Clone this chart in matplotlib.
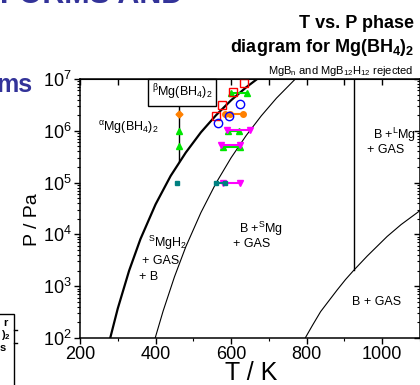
import matplotlib
matplotlib.use('Agg')
import matplotlib.pyplot as plt
import numpy as np
from matplotlib.ticker import MultipleLocator, LogLocator, NullFormatter
from matplotlib.patches import Rectangle
from matplotlib.lines import Line2D

plt.rcParams['font.family'] = 'Liberation Sans'
plt.rcParams['mathtext.fontset'] = 'custom'
plt.rcParams['mathtext.rm'] = 'Liberation Sans'
plt.rcParams['mathtext.it'] = 'Liberation Sans:italic'
plt.rcParams['mathtext.bf'] = 'Liberation Sans:bold'
plt.rcParams['mathtext.default'] = 'regular'

# phase boundaries (T / K, log10 P / Pa)
bh4_T = [280, 300, 330, 360, 400, 440, 480, 520, 560, 600, 640, 669]
bh4_logP = [2.0, 2.57, 3.30, 3.91, 4.58, 5.13, 5.58, 5.97, 6.30, 6.59, 6.84, 7.0]
mgh2_T = [399, 420, 450, 480, 520, 560, 600, 640, 680, 720, 770]
mgh2_logP = [2.0, 2.52, 3.18, 3.76, 4.42, 4.99, 5.48, 5.91, 6.29, 6.63, 7.0]
mg_T = [797, 815, 837, 860, 881, 903, 925, 960, 1013, 1050, 1102]
mg_logP = [2.01, 2.24, 2.51, 2.73, 2.93, 3.13, 3.31, 3.58, 3.96, 4.19, 4.47]
melt_T = [925, 925]
melt_logP = [3.31, 7.0]
beta_T = [462, 462]
beta_logP = [5.42, 6.54]

# experimental points (T / K, P / Pa)
red_T = [560, 576, 605, 633]
red_P = [1.9e6, 3.1e6, 5.6e6, 8.5e6]
blue_T = [565, 595, 624]
blue_P = [1.4e6, 1.9e6, 3.3e6]
orange_T = [585, 596, 632]
orange_P = [2.1e6, 2.1e6, 2.1e6]
orange_alpha_T = [462]
orange_alpha_P = [2.1e6]
green_alpha_T = [462, 462]
green_alpha_P = [1.0e6, 5.0e5]
green_groups = [([600, 642], [5.3e6, 5.3e6]),
                ([591, 620], [9.9e5, 9.9e5]),
                ([578, 624], [4.8e5, 4.8e5])]
magenta_groups = [([589, 649], [1.05e6, 1.05e6]),
                  ([573, 624], [5.4e5, 5.4e5]),
                  ([578, 623], [1.0e5, 1.0e5])]
teal_alpha_T = [457]
teal_alpha_P = [1.0e5]
teal_T = [560, 585]
teal_P = [1.0e5, 1.0e5]

fig = plt.figure(figsize=(4.2, 3.85), dpi=100)
ax = fig.add_axes([80/420, 47/385, 340/420, 259/385])

lp = lambda v: [10**x for x in v]
ax.plot(bh4_T, lp(bh4_logP), color='black', lw=1.6)
ax.plot(mgh2_T, lp(mgh2_logP), color='black', lw=0.8)
ax.plot(mg_T, lp(mg_logP), color='black', lw=0.8)
ax.plot(melt_T, lp(melt_logP), color='black', lw=1.0)
ax.plot(beta_T, lp(beta_logP), color='black', lw=1.0)

for T, P in green_groups:
    ax.plot(T, P, color='#00e600', lw=1.5, marker='^', ms=4, mec='#00e600')
for T, P in magenta_groups:
    ax.plot(T, P, color='#ff00ff', lw=1.5, marker='v', ms=4, mec='#ff00ff')
ax.plot(green_alpha_T, green_alpha_P, ls='none', color='#00e600', marker='^', ms=4)
ax.plot(orange_T, orange_P, color='#ff8000', lw=1.5, marker='o', ms=4)
ax.plot(orange_alpha_T, orange_alpha_P, ls='none', color='#ff8000', marker='D', ms=3.5)
ax.plot(teal_T, teal_P, color='#008080', lw=1.5, marker='s', ms=3.5)
ax.plot(teal_alpha_T, teal_alpha_P, ls='none', color='#008080', marker='s', ms=3.5)
ax.plot(red_T, red_P, ls='none', marker='s', ms=5.5, mfc='none', mec='#ff0000', mew=1)
ax.plot(blue_T, blue_P, ls='none', marker='o', ms=6, mfc='none', mec='#0000ff', mew=1)

ax.set_yscale('log')
ax.set_xlim(200, 1100)
ax.set_ylim(1e2, 1e7)
ax.xaxis.set_major_locator(MultipleLocator(200))
ax.xaxis.set_minor_locator(MultipleLocator(100))
ax.yaxis.set_major_locator(LogLocator(base=10, numticks=10))
ax.yaxis.set_minor_locator(LogLocator(base=10, subs=np.arange(2, 10), numticks=10))
ax.yaxis.set_minor_formatter(NullFormatter())
ax.tick_params(which='major', direction='out', length=4, width=1, labelsize=13, pad=2)
ax.tick_params(which='minor', direction='out', length=2.5, width=0.8)
for s in ax.spines.values():
    s.set_linewidth(1.1)

top = ax.secondary_xaxis('top')
top.xaxis.set_major_locator(MultipleLocator(100))
top.tick_params(direction='in', length=4, width=1, labeltop=False)
right = ax.secondary_yaxis('right')
right.yaxis.set_major_locator(LogLocator(base=10, numticks=10))
right.yaxis.set_minor_locator(LogLocator(base=10, subs=np.arange(2, 10), numticks=10))
right.tick_params(which='major', direction='in', length=4, width=1, labelright=False)
right.tick_params(which='minor', direction='in', length=2.5, width=0.8, labelright=False)

ax.set_xlabel('T / K', fontsize=18)
ax.set_ylabel('P / Pa', fontsize=14)
ax.xaxis.set_label_coords(0.504, -0.089)
ax.yaxis.set_label_coords(-0.115, 0.456)

fs = 9
ax.text(471, 10**6.74, r'$^{\beta}$Mg(BH$_4$)$_2$', fontsize=fs, ha='center', va='center',
        bbox=dict(boxstyle='square,pad=0.3', fc='white', ec='black', lw=1), zorder=5)
ax.text(248, 10**6.07, r'$^{\alpha}$Mg(BH$_4$)$_2$', fontsize=fs, ha='left', va='center')
ax.text(976, 10**5.92, r'B +$^{L}$Mg', fontsize=fs, ha='left', va='center')
ax.text(959, 10**5.63, '+ GAS', fontsize=fs, ha='left', va='center')
ax.text(381, 10**3.84, r'$^{S}$MgH$_2$', fontsize=fs, ha='left', va='center')
ax.text(364, 10**3.48, '+ GAS', fontsize=fs, ha='left', va='center')
ax.text(355, 10**3.18, '+ B', fontsize=fs, ha='left', va='center')
ax.text(620, 10**4.10, r'B +$^{S}$Mg', fontsize=fs, ha='left', va='center')
ax.text(605, 10**3.82, '+ GAS', fontsize=fs, ha='left', va='center')
ax.text(921, 10**2.70, 'B + GAS', fontsize=fs, ha='left', va='center')

# titles above the plot
fig.text(414/420, 1 - 28/385, 'T vs. P phase', fontsize=13, fontweight='bold',
         ha='right', va='baseline')
fig.text(414/420, 1 - 52/385, r'diagram for Mg(BH$_\mathbf{4}$)$_\mathbf{2}$', fontsize=13,
         fontweight='bold', ha='right', va='baseline')
fig.text(413/420, 1 - 74/385, r'MgB$_n$ and MgB$_{12}$H$_{12}$ rejected', fontsize=8,
         ha='right', va='baseline')

# fragments of the surrounding slide
fig.text(183/420, 1 - 3/385, 'FORMS AND', fontsize=22, fontweight='bold', color='#333399',
         ha='right', va='baseline')
fig.text(32/420, 1 - 92/385, 'ms', fontsize=18, fontweight='bold', color='#333399',
         ha='right', va='baseline')
fig.patches.append(Rectangle((-5/420, -5/385), 19/420, (385 - 314 + 5)/385, transform=fig.transFigure,
                             fill=False, ec='black', lw=1))
for yy in (330, 343):
    fig.lines.append(Line2D([14/420, 17/420], [1 - yy/385, 1 - yy/385], transform=fig.transFigure,
                            color='black', lw=1))
fig.text(3/420, 1 - 326/385, 'r', fontsize=8, fontweight='bold', ha='left', va='baseline')
fig.text(1/420, 1 - 338/385, r')$_\mathbf{2}$', fontsize=8, fontweight='bold', ha='left', va='baseline')
fig.text(0/420, 1 - 351/385, 's', fontsize=8, fontweight='bold', ha='left', va='baseline')

fig.savefig('out.png', dpi=100)
